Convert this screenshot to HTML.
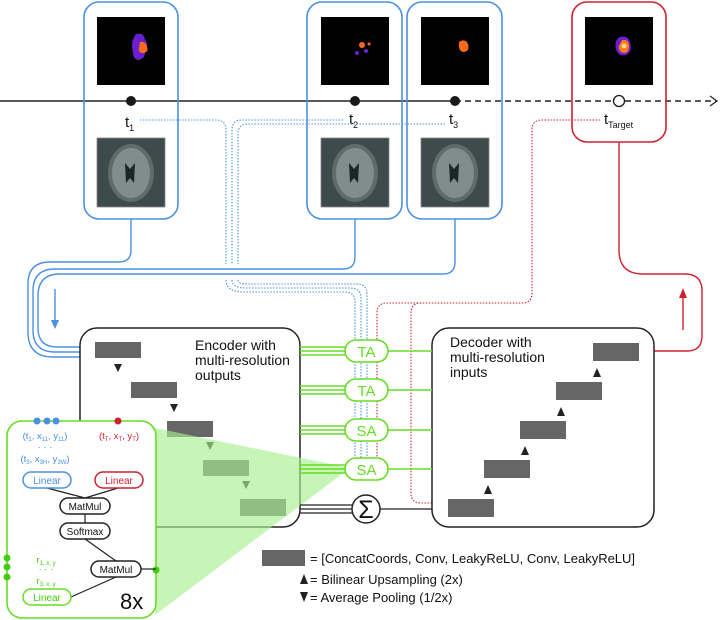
<!DOCTYPE html>
<html><head><style>
html,body{margin:0;padding:0;background:#fff;}
svg{display:block;font-family:"Liberation Sans",sans-serif;}
</style></head><body>
<svg width="722" height="620" viewBox="0 0 722 620" xmlns="http://www.w3.org/2000/svg">
<defs>
<g id="brain">
<rect width="68" height="69" fill="#3e4a4c" stroke="#888" stroke-width="0.8"/>
<ellipse cx="34" cy="35" rx="23" ry="29" fill="#5e6c6a"/>
<ellipse cx="34" cy="35" rx="19" ry="25" fill="#7f8d8b"/>
<path d="M28 25 L33 31 L38 25 L37 45 L33 40 L29 45 Z" fill="#1c2425"/>
</g>
</defs>

<!-- timeline -->
<line x1="0" y1="101" x2="455" y2="101" stroke="#222" stroke-width="1.5"/>
<line x1="455" y1="101" x2="716" y2="101" stroke="#222" stroke-width="1.5" stroke-dasharray="6,4"/>
<polyline points="710,96 717,101 710,106" fill="none" stroke="#222" stroke-width="1.2"/>

<!-- blue boxes -->
<rect x="84" y="2" width="94" height="217" rx="15" fill="none" stroke="#4a90e2" stroke-width="1.6"/>
<rect x="307" y="2" width="95" height="217" rx="15" fill="none" stroke="#4a90e2" stroke-width="1.6"/>
<rect x="407" y="2" width="95" height="217" rx="15" fill="none" stroke="#4a90e2" stroke-width="1.6"/>
<rect x="572" y="2" width="94" height="140" rx="15" fill="none" stroke="#d0202e" stroke-width="1.6"/>

<!-- tumor images -->
<rect x="97" y="17" width="68" height="68" fill="#000"/>
<path d="M136 34 q8 -2 9 6 q4 4 0 10 q1 8 -6 10 q-6 0 -6 -8 q-3 -10 3 -18z" fill="#6a1fd0"/>
<path d="M140 42 q6 -1 7 5 q2 5 -4 6 q-5 0 -4 -5z" fill="#ff6a1a"/>
<rect x="321" y="17" width="68" height="68" fill="#000"/>
<circle cx="362" cy="45" r="3" fill="#ff6a1a"/><circle cx="366" cy="51" r="2" fill="#6a1fd0"/><circle cx="357" cy="53" r="2" fill="#6a1fd0"/><circle cx="369" cy="44" r="1.5" fill="#ff6a1a"/>
<rect x="421" y="17" width="68" height="68" fill="#000"/>
<path d="M459 42 q6 -4 9 2 q2 7 -4 8 q-6 0 -5 -10z" fill="#ff6a1a"/>
<rect x="585" y="17" width="68" height="68" fill="#000"/>
<path d="M620 37 q9 -2 10 6 q3 8 -4 12 q-8 2 -10 -6 q-2 -9 4 -12z" fill="#6a1fd0"/>
<path d="M622 40 q7 -1 7 6 q0 7 -5 7 q-6 -1 -5 -7z" fill="#ff7a1a"/>
<circle cx="624" cy="46" r="2.5" fill="#ffe07a"/>

<!-- brain images -->
<use href="#brain" x="97" y="138"/>
<use href="#brain" x="321" y="138"/>
<use href="#brain" x="421" y="138"/>

<!-- dots -->
<circle cx="131" cy="101" r="5" fill="#1a1a1a"/>
<circle cx="355" cy="101" r="5" fill="#1a1a1a"/>
<circle cx="455" cy="101" r="5" fill="#1a1a1a"/>
<circle cx="619" cy="101" r="5.5" fill="#fff" stroke="#1a1a1a" stroke-width="1.3"/>

<g font-size="15" fill="#111">
<text x="125" y="127">t<tspan font-size="9" dy="4">1</tspan></text>
<text x="349" y="124">t<tspan font-size="9" dy="4">2</tspan></text>
<text x="449" y="124">t<tspan font-size="9" dy="4">3</tspan></text>
<text x="604" y="124">t<tspan font-size="9" dy="4">Target</tspan></text>
</g>

<!-- blue dotted lines -->
<g fill="none" stroke="#4a90e2" stroke-width="1.1" stroke-dasharray="1.5,1.5">
<path d="M140 120 H216 q10 0 10 10 V264"/>
<path d="M343 120 H242 q-10 0 -10 10 V264"/>
<path d="M445 124 H248 q-10 0 -10 10 V264"/>
<path d="M226 280 q0 12 18 12 H345 q10 0 10 10 V470"/>
<path d="M232 280 q0 8 14 8 H350 q11 0 11 10 V470"/>
<path d="M238 280 q0 4 10 4 H356 q11 0 11 10 V470"/>
</g>

<!-- red dotted -->
<g fill="none" stroke="#d0202e" stroke-width="1.1" stroke-dasharray="1.5,1.5">
<path d="M600 120 H542 q-10 0 -10 10 V293 q0 10 -10 10 H421 q-10 0 -10 10 V493 q0 10 10 10 H432"/>
<path d="M421 303 H387 q-10 0 -10 10 V470"/>
</g>

<!-- blue solid lines -->
<g fill="none" stroke="#4a90e2" stroke-width="1.4">
<path d="M131 219 V250 q0 12 -12 12 H50 q-22 0 -22 22 V332 q0 25 25 25 H80"/>
<path d="M355 219 V257 q0 12 -12 12 H55 q-22 0 -22 22 V330 q0 22 22 22 H80"/>
<path d="M455 219 V262 q0 12 -12 12 H60 q-22 0 -22 22 V328 q0 19 19 19 H80"/>
<line x1="55" y1="289" x2="55" y2="322"/>
</g>
<polygon points="51,320 59,320 55,329" fill="#4a90e2"/>

<!-- red solid -->
<path d="M619 142 V250 q0 24 24 24 H685 q17 0 17 17 V336 q0 15 -15 15 H654" fill="none" stroke="#d0202e" stroke-width="1.4"/>
<line x1="683" y1="330" x2="683" y2="296" stroke="#d0202e" stroke-width="1.4"/>
<polygon points="679,298 687,298 683,288" fill="#d0202e"/>

<!-- encoder box -->
<rect x="80" y="328" width="220" height="199" rx="17" fill="#fff" stroke="#222" stroke-width="1.5"/>
<g font-size="14" fill="#111">
<text x="195" y="350">Encoder with</text>
<text x="195" y="365">multi-resolution</text>
<text x="195" y="380">outputs</text>
</g>
<g fill="#666">
<rect x="95" y="342" width="46" height="16"/>
<rect x="131" y="382" width="46" height="16"/>
<rect x="167" y="421" width="46" height="16"/>
<rect x="203" y="460" width="46" height="16"/>
<rect x="240" y="499" width="46" height="17"/>
</g>
<g fill="#222">
<polygon points="114,364 122,364 118,372"/>
<polygon points="170,404 178,404 174,412"/>
<polygon points="206,442 214,442 210,450"/>
<polygon points="242,481 250,481 246,489"/>
</g>

<!-- decoder box -->
<rect x="432" y="328" width="222" height="199" rx="17" fill="#fff" stroke="#222" stroke-width="1.5"/>
<g font-size="14" fill="#111">
<text x="450" y="347">Decoder with</text>
<text x="450" y="362">multi-resolution</text>
<text x="450" y="377">inputs</text>
</g>
<g fill="#666">
<rect x="448" y="499" width="46" height="18"/>
<rect x="484" y="460" width="46" height="18"/>
<rect x="520" y="421" width="46" height="18"/>
<rect x="556" y="382" width="46" height="18"/>
<rect x="593" y="343" width="46" height="18"/>
</g>
<g fill="#222">
<polygon points="484,494 492,494 488,485"/>
<polygon points="521,455 529,455 525,446"/>
<polygon points="557,416 565,416 561,407"/>
<polygon points="593,377 601,377 597,368"/>
</g>

<!-- green shading -->
<polygon points="155,428 350,468 155,615" fill="#a8f090" opacity="0.65"/>

<!-- green connections -->
<g stroke="#66dd22" stroke-width="1.4" fill="none">
<path d="M300 347 H345 M300 351 H345 M300 355 H345 M388 351 H432"/>
<path d="M300 386 H345 M300 390 H345 M300 394 H345 M388 390 H432"/>
<path d="M300 426 H345 M300 430 H345 M300 434 H345 M388 430 H432"/>
<path d="M300 465 H345 M300 469 H345 M300 473 H345 M388 469 H432"/>
</g>
<g stroke="#66dd22" stroke-width="1.6" fill="#fff">
<rect x="345" y="340" width="43" height="22" rx="11"/>
<rect x="345" y="379" width="43" height="22" rx="11"/>
<rect x="345" y="419" width="43" height="22" rx="11"/>
<rect x="345" y="458" width="43" height="22" rx="11"/>
</g>
<g font-size="15" fill="#66dd22" text-anchor="middle">
<text x="366.5" y="357">TA</text>
<text x="366.5" y="396">TA</text>
<text x="366.5" y="436">SA</text>
<text x="366.5" y="475">SA</text>
</g>
<!-- sigma -->
<g stroke="#222" stroke-width="1.2">
<line x1="300" y1="505" x2="352" y2="505"/><line x1="300" y1="509" x2="352" y2="509"/><line x1="300" y1="513" x2="352" y2="513"/>
<line x1="380" y1="509" x2="432" y2="509"/>
</g>
<circle cx="366" cy="509" r="14" fill="#fff" stroke="#222" stroke-width="1.5"/>
<text x="366" y="518" font-size="25" text-anchor="middle" fill="#111">Σ</text>

<!-- green panel -->
<rect x="7" y="421" width="149" height="197" rx="15" fill="#fff" stroke="#66dd22" stroke-width="1.6"/>
<circle cx="37" cy="421" r="3.5" fill="#4a90e2"/><circle cx="47" cy="421" r="3.5" fill="#4a90e2"/><circle cx="56" cy="421" r="3.5" fill="#4a90e2"/>
<circle cx="118" cy="421" r="3.5" fill="#d0202e"/>
<circle cx="7" cy="558" r="3.5" fill="#44cc11"/><circle cx="7" cy="567" r="3.5" fill="#44cc11"/><circle cx="7" cy="577" r="3.5" fill="#44cc11"/>
<circle cx="156" cy="570" r="3.5" fill="#44cc11"/>
<g font-size="9.5" text-anchor="middle">
<text x="45" y="439" fill="#4a90e2">(t<tspan font-size="6" dy="2">1</tspan><tspan dy="-2">, x</tspan><tspan font-size="6" dy="2">11</tspan><tspan dy="-2">, y</tspan><tspan font-size="6" dy="2">11</tspan><tspan dy="-2">)</tspan></text>
<text x="45" y="450" fill="#4a90e2">· · ·</text>
<text x="45" y="462" fill="#4a90e2">(t<tspan font-size="6" dy="2">3</tspan><tspan dy="-2">, x</tspan><tspan font-size="6" dy="2">3H</tspan><tspan dy="-2">, y</tspan><tspan font-size="6" dy="2">3W</tspan><tspan dy="-2">)</tspan></text>
<text x="119" y="439" fill="#d0202e">(t<tspan font-size="6" dy="2">T</tspan><tspan dy="-2">, x</tspan><tspan font-size="6" dy="2">T</tspan><tspan dy="-2">, y</tspan><tspan font-size="6" dy="2">T</tspan><tspan dy="-2">)</tspan></text>
<text x="46" y="563" fill="#44cc11">r<tspan font-size="6" dy="2">1, x, y</tspan></text>
<text x="46" y="572" fill="#44cc11">· · ·</text>
<text x="46" y="584" fill="#44cc11">r<tspan font-size="6" dy="2">3, x, y</tspan></text>
</g>
<g stroke="#222" stroke-width="1.2">
<line x1="47" y1="488" x2="85" y2="498"/><line x1="118" y1="488" x2="85" y2="498"/>
<line x1="85" y1="514" x2="85" y2="523"/>
<line x1="85" y1="539" x2="116" y2="561"/>
<line x1="71" y1="597" x2="116" y2="577"/>
<line x1="141" y1="569" x2="156" y2="569"/>
</g>
<g stroke-width="1.5" fill="#fff">
<rect x="23" y="472" width="48" height="16" rx="8" stroke="#4a90e2"/>
<rect x="95" y="472" width="48" height="16" rx="8" stroke="#d0202e"/>
<rect x="60" y="498" width="50" height="16" rx="8" stroke="#222"/>
<rect x="60" y="523" width="50" height="16" rx="8" stroke="#222"/>
<rect x="91" y="561" width="50" height="16" rx="8" stroke="#222"/>
<rect x="23" y="589" width="48" height="16" rx="8" stroke="#66dd22"/>
</g>
<g font-size="10" text-anchor="middle">
<text x="47" y="484" fill="#4a90e2">Linear</text>
<text x="119" y="484" fill="#d0202e">Linear</text>
<text x="85" y="510" fill="#111">MatMul</text>
<text x="85" y="535" fill="#111">Softmax</text>
<text x="116" y="573" fill="#111">MatMul</text>
<text x="47" y="601" fill="#44cc11">Linear</text>
</g>
<text x="120" y="609" font-size="22" fill="#111">8x</text>

<!-- legend -->
<rect x="262" y="550" width="43" height="16" fill="#666"/>
<g font-size="13" fill="#111">
<text x="310" y="563">= [ConcatCoords, Conv, LeakyReLU, Conv, LeakyReLU]</text>
<text x="310" y="584">= Bilinear Upsampling (2x)</text>
<text x="310" y="602">= Average Pooling (1/2x)</text>
</g>
<polygon points="300,574 308,574 304,584" fill="#222" transform="rotate(180 304 579)"/>
<polygon points="300,592 308,592 304,602" fill="#222"/>
</svg>
</body></html>
